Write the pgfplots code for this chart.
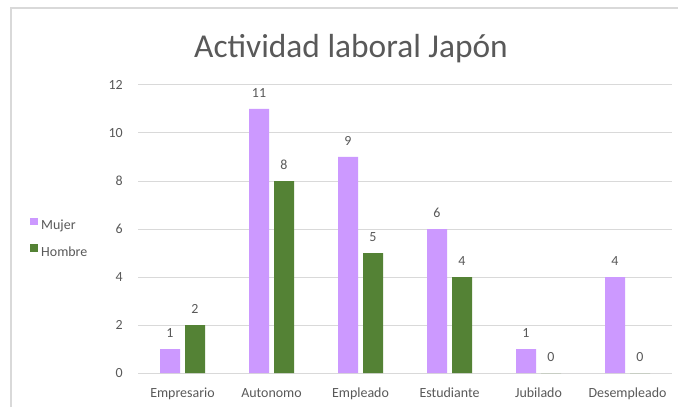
\documentclass[border=0pt]{standalone}
\usepackage{fontspec}
\setmainfont{Carlito}
\usepackage{pgfplots}
\pgfplotsset{compat=1.18}
\definecolor{mujer}{HTML}{CC99FF}
\definecolor{hombre}{HTML}{548235}
\definecolor{txt}{HTML}{595959}
\definecolor{gridc}{HTML}{D9D9D9}
\begin{document}
\begin{tikzpicture}[x=1bp,y=1bp]
\useasboundingbox (0,0) rectangle (678,407);
\fill[white] (0,0) rectangle (678,407);
\draw[gridc, line width=1.5bp] (11,0) -- (11,399) -- (678,399);
\node[text=txt, font=\fontsize{33.5}{40}\selectfont, anchor=base, inner sep=0pt] at (351,350) {Actividad laboral Japón};
\begin{axis}[
  at={(138bp,34bp)}, anchor=south west, scale only axis,
  width=534bp, height=288bp,
  ybar, bar width=20bp,
  enlargelimits=false, clip=false,
  xmin=-0.5, xmax=5.5, ymin=0, ymax=12, ytick={0,2,...,12},
  xtick={0,...,5},
  xticklabels={Empresario,Autonomo,Empleado,Estudiante,Jubilado,Desempleado},
  axis line style={draw=none},
  major tick length=0pt,
  ymajorgrids, major grid style={gridc, line width=1bp},
  /pgf/number format/assume math mode=true,
  ticklabel style={font=\fontsize{14}{16}\selectfont, text=txt, inner sep=0pt},
  yticklabel style={anchor=east, xshift=-15bp},
  xticklabel style={anchor=base, yshift=-24bp},
  nodes near coords,
  every node near coord/.append style={font=\fontsize{14}{16}\selectfont, text=txt, inner sep=0pt, yshift=11bp},
  legend cell align=left,
  legend style={at={(-0.2022,0.4653)}, anchor=west, draw=none, fill=none, inner sep=0pt,
    font=\fontsize{14}{16}\selectfont, text=txt, row sep=11bp,
    nodes={inner sep=2bp}},
  legend image code/.code={\fill[#1] (0bp,0.5bp) rectangle (7.5bp,8bp); \path (9bp,4bp);},
]
\addplot[fill=mujer, draw=none, bar shift=-12.5bp] coordinates {(0,1) (1,11) (2,9) (3,6) (4,1) (5,4)};
\addplot[fill=hombre, draw=none, bar shift=12.5bp] coordinates {(0,2) (1,8) (2,5) (3,4) (4,0) (5,0)};
\legend{Mujer,Hombre}
\end{axis}
\end{tikzpicture}
\end{document}
